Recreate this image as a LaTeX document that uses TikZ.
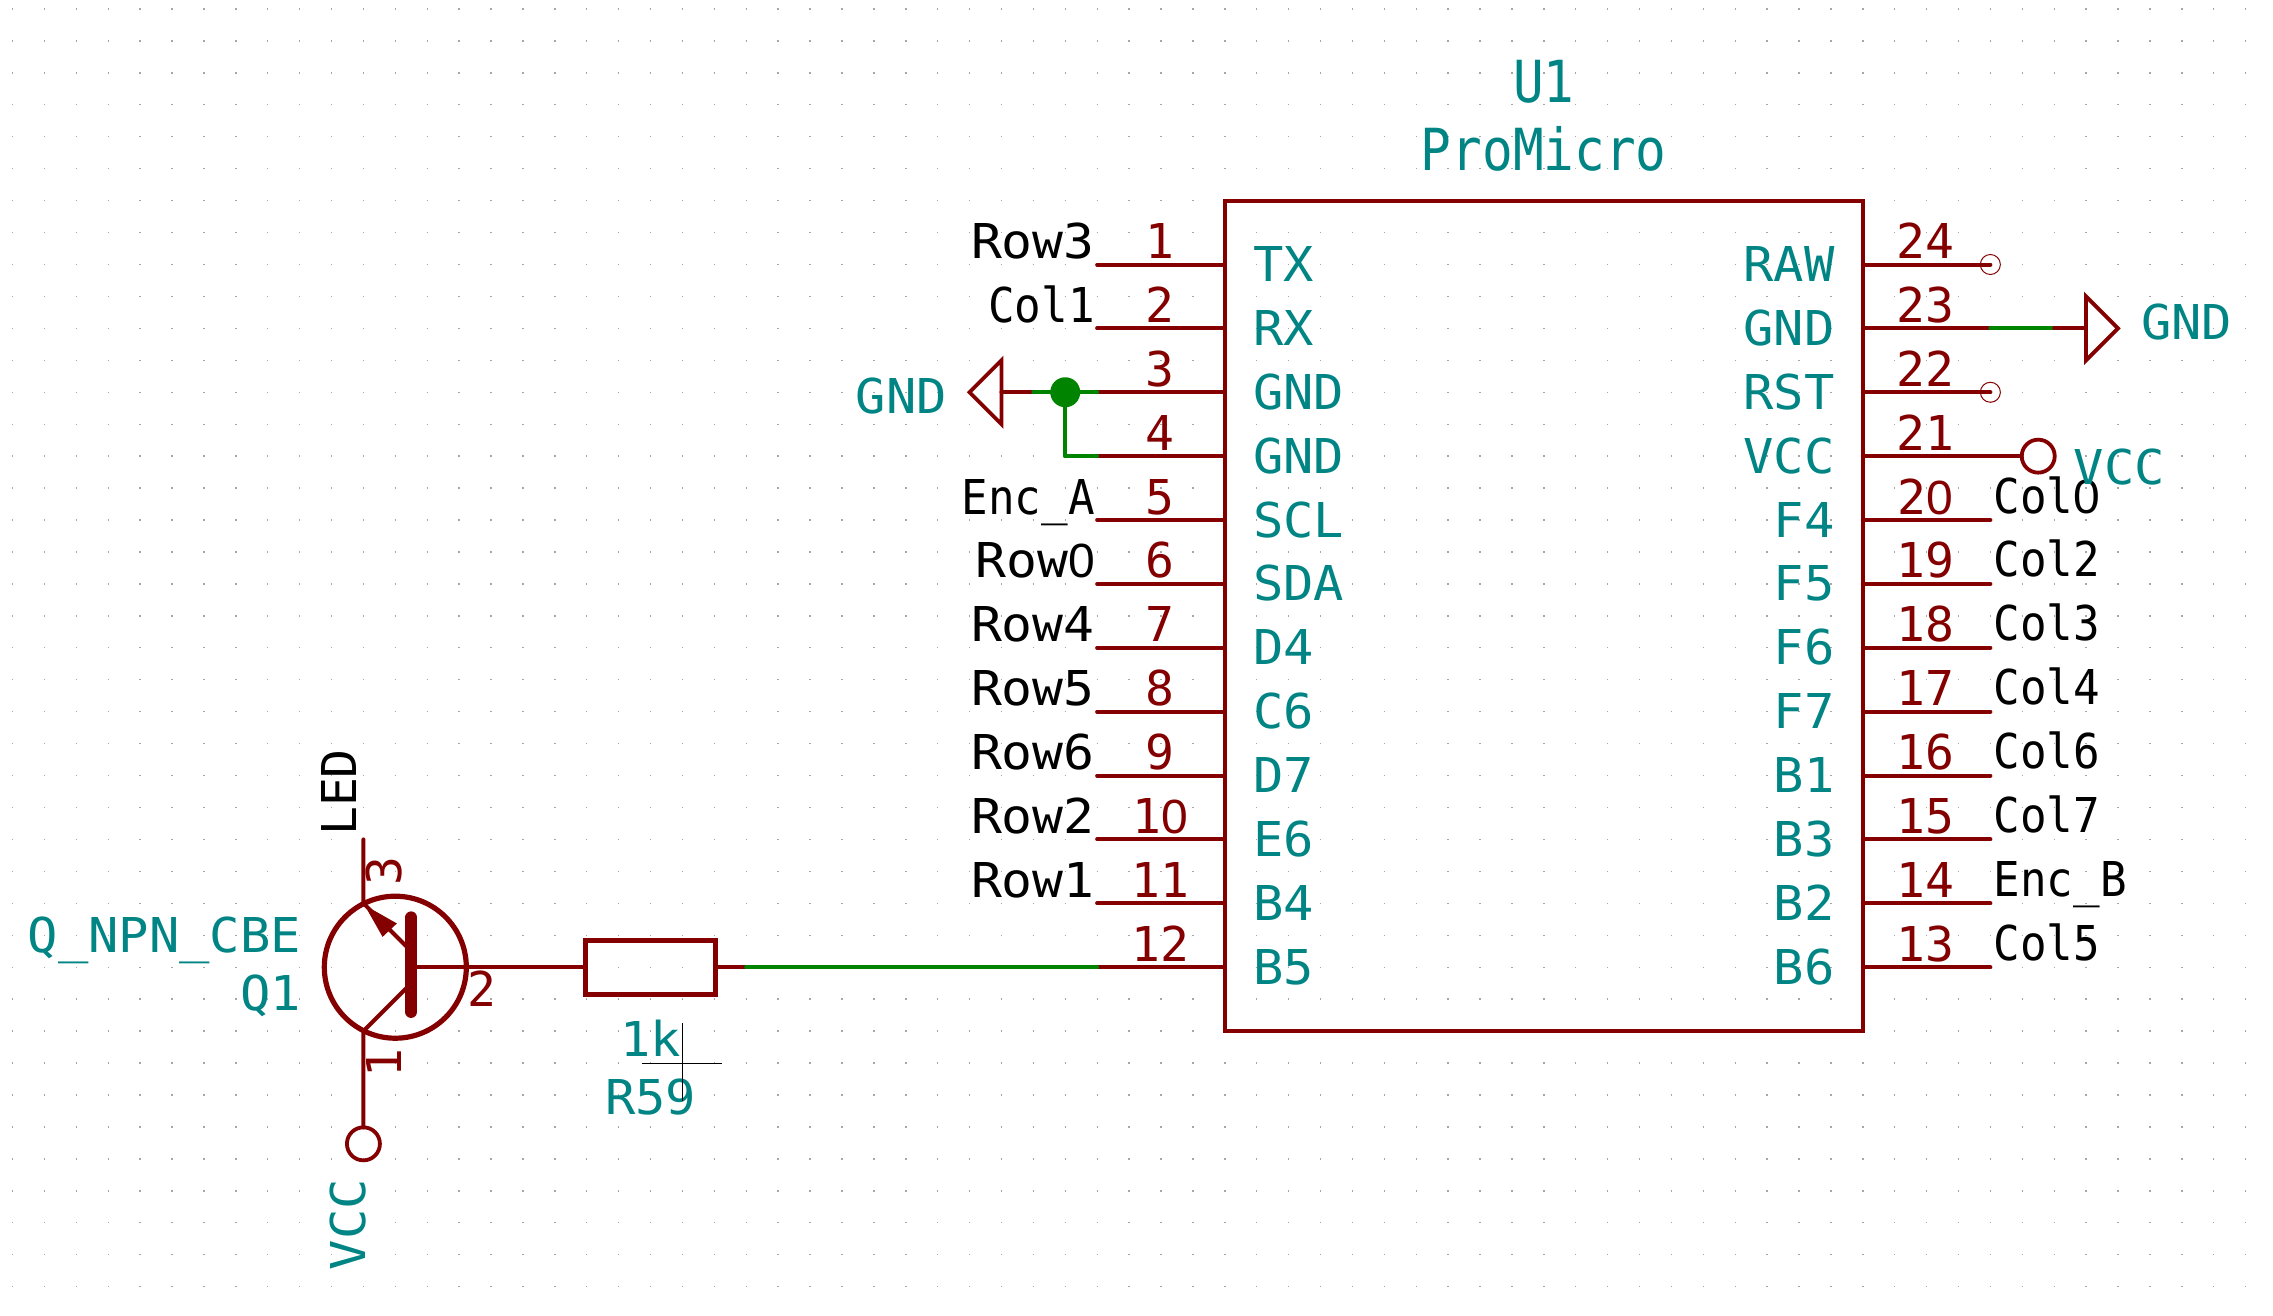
\documentclass[tikz,border=0pt]{standalone}
\usepackage{fontspec}
\usepackage{tikz}
\usetikzlibrary{positioning}
\setmainfont{DejaVu Sans Mono}
\newfontfamily\zerofont{Liberation Sans}
\newfontfamily\titlefont[FakeStretch=0.88]{DejaVu Sans Mono}
\newfontfamily\widefont[FakeStretch=1.07]{DejaVu Sans Mono}
\newfontfamily\fieldfont[FakeStretch=1.05]{DejaVu Sans Mono}
\newfontfamily\slimfont[FakeStretch=0.92]{DejaVu Sans Mono}
\newcommand{\zr}{{\zerofont 0}}
\definecolor{pinred}{RGB}{132,0,0}
\definecolor{wiregreen}{RGB}{0,132,0}
\definecolor{fieldteal}{RGB}{0,132,132}
\tikzset{
    griddot/.style = {
       gray!70, line width=.7pt, dash pattern=on .7pt off 15.25pt
    },
    Ubox/.style = {
       shape=rectangle, draw=pinred, line width=1.9pt, inner sep=0pt, outer sep=0pt,
       minimum width = 319pt,
       minimum height = 415.2pt
    },
    part/.style = {draw=pinred, line width=2.6pt, inner sep=0pt, outer sep=0pt},
    pin/.style = {pinred, line width=2pt, line cap=round},
    wire/.style = {wiregreen, line width=2pt, line cap=round},
    sym/.style = {draw=pinred, line width=1.9pt, line join=miter},
    txt/.style = {font=\fontsize{24}{24}\selectfont, inner sep=0pt},
    field/.style = {txt, fieldteal, font=\fieldfont\fontsize{24}{24}\selectfont},
    titlefield/.style = {field, anchor=base, font=\titlefont\fontsize{29}{29}\selectfont},
    leftnum/.style = {txt, pinred, anchor=base, xshift=31.5pt, yshift=3pt},
    rightnum/.style = {txt, pinred, anchor=base, xshift=-32.5pt, yshift=3pt},
    leftname/.style = {field, anchor=base west, xshift=14pt, yshift=-8.5pt},
    rightname/.style = {field, anchor=base east, xshift=-14pt, yshift=-8.5pt},
    leftnet/.style = {txt, anchor=base east, xshift=-1pt, yshift=3pt},
    rightnet/.style = {txt, anchor=base west, xshift=1.5pt, yshift=3.5pt},
    rownet/.style = {leftnet, font=\widefont\fontsize{24}{24}\selectfont},
    colnet/.style = {leftnet, font=\slimfont\fontsize{24}{24}\selectfont},
    ricol/.style = {rightnet, font=\slimfont\fontsize{24}{24}\selectfont},
    noconn/.style = {shape=circle, draw=pinred, line width=.5pt, minimum size=10pt, inner sep=0pt}
}
\begin{document}
\begin{tikzpicture}[x=15.95pt,y=-15.97pt]
   \useasboundingbox (-0.392,-0.281) rectangle (70.86,40.92);
   % sheet grid
   \foreach \r in {0,...,40} {
      \draw[griddot] (-.02,\r) -- (70.1,\r);
   }
   % U1
   \node[Ubox] (U1) at (48,19) {};
   \node[titlefield] (U1ref) at (48,2.92) {U1};
   \node[titlefield] (U1val) at (48,5.06) {ProMicro};
   % pin ends, left side
   \coordinate (P1) at (34,8);
   \coordinate (P2) at (34,10);
   \coordinate (P3) at (34,12);
   \coordinate (P4) at (34,14);
   \coordinate (P5) at (34,16);
   \coordinate (P6) at (34,18);
   \coordinate (P7) at (34,20);
   \coordinate (P8) at (34,22);
   \coordinate (P9) at (34,24);
   \coordinate (P10) at (34,26);
   \coordinate (P11) at (34,28);
   \coordinate (P12) at (34,30);
   % pin ends, right side
   \coordinate (P24) at (62,8);
   \coordinate (P23) at (62,10);
   \coordinate (P22) at (62,12);
   \coordinate (P21) at (62,14);
   \coordinate (P20) at (62,16);
   \coordinate (P19) at (62,18);
   \coordinate (P18) at (62,20);
   \coordinate (P17) at (62,22);
   \coordinate (P16) at (62,24);
   \coordinate (P15) at (62,26);
   \coordinate (P14) at (62,28);
   \coordinate (P13) at (62,30);
\path[pin]
(P1) edge (P1 -| U1.west)
(P2) edge (P2 -| U1.west)
(P3) edge (P3 -| U1.west)
(P4) edge (P4 -| U1.west)
(P5) edge (P5 -| U1.west)
(P6) edge (P6 -| U1.west)
(P7) edge (P7 -| U1.west)
(P8) edge (P8 -| U1.west)
(P9) edge (P9 -| U1.west)
(P10) edge (P10 -| U1.west)
(P11) edge (P11 -| U1.west)
(P12) edge (P12 -| U1.west)
(P24) edge (P24 -| U1.east)
(P23) edge (P23 -| U1.east)
(P22) edge (P22 -| U1.east)
(P21) edge (P21 -| U1.east)
(P20) edge (P20 -| U1.east)
(P19) edge (P19 -| U1.east)
(P18) edge (P18 -| U1.east)
(P17) edge (P17 -| U1.east)
(P16) edge (P16 -| U1.east)
(P15) edge (P15 -| U1.east)
(P14) edge (P14 -| U1.east)
(P13) edge (P13 -| U1.east);
   % pin numbers
   \node[leftnum] (N1) at (P1) {1};
   \node[leftnum] (N2) at (P2) {2};
   \node[leftnum] (N3) at (P3) {3};
   \node[leftnum] (N4) at (P4) {4};
   \node[leftnum] (N5) at (P5) {5};
   \node[leftnum] (N6) at (P6) {6};
   \node[leftnum] (N7) at (P7) {7};
   \node[leftnum] (N8) at (P8) {8};
   \node[leftnum] (N9) at (P9) {9};
   \node[leftnum] (N10) at (P10) {1\zr};
   \node[leftnum] (N11) at (P11) {11};
   \node[leftnum] (N12) at (P12) {12};
   \node[rightnum] (N24) at (P24) {24};
   \node[rightnum] (N23) at (P23) {23};
   \node[rightnum] (N22) at (P22) {22};
   \node[rightnum] (N21) at (P21) {21};
   \node[rightnum] (N20) at (P20) {2\zr};
   \node[rightnum] (N19) at (P19) {19};
   \node[rightnum] (N18) at (P18) {18};
   \node[rightnum] (N17) at (P17) {17};
   \node[rightnum] (N16) at (P16) {16};
   \node[rightnum] (N15) at (P15) {15};
   \node[rightnum] (N14) at (P14) {14};
   \node[rightnum] (N13) at (P13) {13};
   % pin names
   \node[leftname] (TX) at (P1 -| U1.west) {TX};
   \node[leftname] (RX) at (P2 -| U1.west) {RX};
   \node[leftname] (GNDa) at (P3 -| U1.west) {GND};
   \node[leftname] (GNDb) at (P4 -| U1.west) {GND};
   \node[leftname] (SCL) at (P5 -| U1.west) {SCL};
   \node[leftname] (SDA) at (P6 -| U1.west) {SDA};
   \node[leftname] (D4) at (P7 -| U1.west) {D4};
   \node[leftname] (C6) at (P8 -| U1.west) {C6};
   \node[leftname] (D7) at (P9 -| U1.west) {D7};
   \node[leftname] (E6) at (P10 -| U1.west) {E6};
   \node[leftname] (B4) at (P11 -| U1.west) {B4};
   \node[leftname] (B5) at (P12 -| U1.west) {B5};
   \node[rightname] (RAW) at (P24 -| U1.east) {RAW};
   \node[rightname] (GNDc) at (P23 -| U1.east) {GND};
   \node[rightname] (RST) at (P22 -| U1.east) {RST};
   \node[rightname] (VCCa) at (P21 -| U1.east) {VCC};
   \node[rightname] (F4) at (P20 -| U1.east) {F4};
   \node[rightname] (F5) at (P19 -| U1.east) {F5};
   \node[rightname] (F6) at (P18 -| U1.east) {F6};
   \node[rightname] (F7) at (P17 -| U1.east) {F7};
   \node[rightname] (B1) at (P16 -| U1.east) {B1};
   \node[rightname] (B3) at (P15 -| U1.east) {B3};
   \node[rightname] (B2) at (P14 -| U1.east) {B2};
   \node[rightname] (B6) at (P13 -| U1.east) {B6};
   % net labels
   \node[rownet] (Row3) at (P1) {Row3};
   \node[colnet] (Col1) at (P2) {Col1};
   \node[colnet] (EncA) at (P5) {Enc\_A};
   \node[rownet] (Row0) at (P6) {Row\zr};
   \node[rownet] (Row4) at (P7) {Row4};
   \node[rownet] (Row5) at (P8) {Row5};
   \node[rownet] (Row6) at (P9) {Row6};
   \node[rownet] (Row2) at (P10) {Row2};
   \node[rownet] (Row1) at (P11) {Row1};
   \node[ricol] (Col0) at (P20) {Col\zr};
   \node[ricol] (Col2) at (P19) {Col2};
   \node[ricol] (Col3) at (P18) {Col3};
   \node[ricol] (Col4) at (P17) {Col4};
   \node[ricol] (Col6) at (P16) {Col6};
   \node[ricol] (Col7) at (P15) {Col7};
   \node[ricol] (EncB) at (P14) {Enc\_B};
   \node[ricol] (Col5) at (P13) {Col5};
   % unconnected pins
   \node[noconn] (NC24) at (P24) {};
   \node[noconn] (NC22) at (P22) {};
   % GND on the left
   \coordinate (GNDlin) at (31,12);
   \coordinate (GNDlstub) at (32,12);
   \node[shape=circle, fill=wiregreen, minimum size=15pt, inner sep=0pt] (Jgnd) at (33,12) {};
   \draw[sym] (GNDlin) -- (31,11) -- (30,12) -- (31,13) -- cycle;
   \node[field, anchor=base east] (GNDl) at (29.3,12.65) {GND};
   \draw[pin] (GNDlin) -- (GNDlstub);
   \path[wire]
   (GNDlstub) edge (P3)
   (Jgnd) edge (Jgnd |- P4)
   (Jgnd |- P4) edge (P4);
   % GND on the right
   \coordinate (GNDrin) at (65,10);
   \coordinate (GNDrstub) at (64,10);
   \draw[sym] (GNDrin) -- (65,9) -- (66,10) -- (65,11) -- cycle;
   \node[field, anchor=base west] (GNDr) at (66.71,10.36) {GND};
   \draw[wire] (P23) -- (GNDrstub);
   \draw[pin] (GNDrstub) -- (GNDrin);
   % VCC on the right
   \node[part, shape=circle, line width=1.9pt, minimum size=16.5pt] (VCCr) at (63.5,14) {};
   \node[field, anchor=base west] (VCCrl) at (64.6,14.9) {VCC};
   \draw[pin] (P21) -- (VCCr);
   % Q1
   \node[part, shape=circle, minimum size=71pt] (Q1c) at (12,30) {};
   \coordinate (Qc) at (11,26);
   \coordinate (Qcin) at (11,28);
   \coordinate (Qein) at (11,32);
   \coordinate (Qbar) at (12.5,30);
   \node[part, shape=circle, line width=1.9pt, minimum size=16.5pt] (VCCq) at (11,35.53) {};
   \draw[pinred, line width=6pt, line cap=round] (12.5,28.44) -- (12.5,31.4);
   \draw[pin] (Qc) -- (Qcin) -- (12.34,29.34);
   \draw[pin] (VCCq) -- (Qein) -- (12.34,30.66);
   \fill[pinred] (11.04,28.06) -- (11.6,29.05) -- (12.05,28.63) -- cycle;
   \node[txt, pinred, rotate=90] (Q3) at (11.64,27) {3};
   \node[txt, pinred, rotate=90] (Q1pin) at (11.64,33) {1};
   \node[txt, pinred] (Q2) at (14.72,30.66) {2};
   \node[txt, rotate=90] (LED) at (10.23,24.53) {LED};
   \node[field, rotate=90] (VCCql) at (10.53,38.06) {VCC};
   \node[field, anchor=base east] (Qval) at (9.05,29.53) {Q\_NPN\_CBE};
   \node[field, anchor=base east] (Qref) at (9.05,31.36) {Q1};
   % R59
   \node[part, shape=rectangle, minimum width=65pt, minimum height=27pt] (R59) at (20,30) {};
   \node[field, anchor=base] (Rval) at (20,32.8) {1k};
   \node[field, anchor=base] (Rref) at (20,34.6) {R59};
   \coordinate (Rstub) at (23,30);
   \draw[pin] (Qbar) -- (R59);
   \draw[pin] (R59) -- (Rstub);
   \draw[wire] (Rstub) -- (P12);
   % cursor
   \draw[black, line width=.4pt] (21,31.75) -- (21,34.2);
   \draw[black, line width=.4pt] (19.73,33) -- (22.25,33);
\end{tikzpicture}
\end{document}
